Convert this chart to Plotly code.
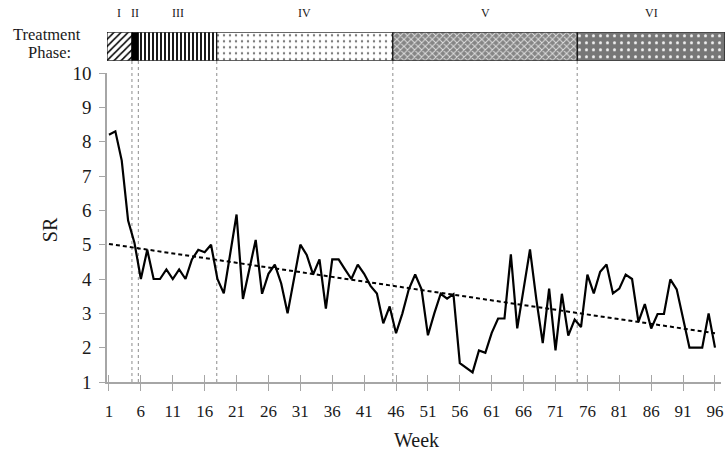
import plotly.graph_objects as go

# ---------------- data ----------------
weeks = list(range(1, 97))
sr = [8.2, 8.3, 7.45, 5.7, 5.05, 4.0, 4.85, 4.0, 4.0, 4.28,
      4.0, 4.28, 4.0, 4.57, 4.85, 4.78, 5.0, 4.0, 3.58, 4.7,
      5.88, 3.42, 4.3, 5.14, 3.57, 4.15, 4.42, 3.87, 3.0, 3.97,
      5.0, 4.7, 4.13, 4.57, 3.14, 4.57, 4.57, 4.28, 4.0, 4.42,
      4.15, 3.8, 3.58, 2.71, 3.2, 2.42, 3.0, 3.7, 4.13, 3.7,
      2.36, 3.0, 3.57, 3.43, 3.56, 1.55, 1.42, 1.28, 1.92, 1.85,
      2.43, 2.85, 2.85, 4.72, 2.56, 3.7, 4.86, 3.4, 2.13, 3.72,
      1.92, 3.57, 2.35, 2.82, 2.6, 4.13, 3.58, 4.21, 4.42, 3.58,
      3.72, 4.13, 4.0, 2.75, 3.27, 2.56, 2.98, 2.98, 3.99, 3.7,
      2.85, 2.0, 2.0, 2.0, 3.0, 2.0]
trend_weeks = [1, 96]
trend_vals = [5.02, 2.42]
x_tick_vals = list(range(1, 97, 5))
x_tick_text = [str(v) for v in x_tick_vals]
y_tick_vals = list(range(1, 11))
phase_names = ["I", "II", "III", "IV", "V", "VI"]
phase_bounds = [0.69, 4.6, 5.6, 17.9, 45.5, 74.4, 97.56]  # week positions of phase edges

# ---------------- style ----------------
SERIF = "Liberation Serif, Times New Roman, serif"
AX = "#a6a6a6"
TXT = "#1a1a1a"
X_MAIN_RANGE = [0.69, 96.94]
X_BAR_RANGE = [0.69, 97.56]

phase_styles = [
    dict(shape="/", fg="black", bg="white", size=5, sol=0.3),
    dict(shape="", fg="black", bg="black", size=5, sol=0.3),
    dict(shape="|", fg="black", bg="white", size=4, sol=0.45),
    dict(shape=".", fg="#7a7a7a", bg="white", size=6, sol=0.12),
    dict(shape="x", fg="#dedede", bg="#858585", size=5, sol=0.35),
    dict(shape=".", fg="#f2f2f2", bg="#777777", size=7, sol=0.15),
]

fig = go.Figure()

for i, name in enumerate(phase_names):
    st = phase_styles[i]
    marker = dict(color=st["bg"], line=dict(color="black", width=1))
    if st["shape"]:
        marker["pattern"] = dict(shape=st["shape"], fgcolor=st["fg"], bgcolor=st["bg"],
                                 size=st["size"], solidity=st["sol"], fillmode="replace")
    fig.add_trace(go.Bar(
        orientation="h", y=[0.5], x=[phase_bounds[i + 1] - phase_bounds[i]],
        base=[phase_bounds[i]], width=1, name=name,
        xaxis="x2", yaxis="y2", showlegend=False, hoverinfo="skip", marker=marker))

fig.add_trace(go.Scatter(x=weeks, y=sr, mode="lines",
                         line=dict(color="black", width=2.2), showlegend=False,
                         hoverinfo="skip"))
fig.add_trace(go.Scatter(x=trend_weeks, y=trend_vals, mode="lines",
                         line=dict(color="black", width=2, dash="4px,3px"),
                         showlegend=False, hoverinfo="skip"))
# invisible trace to carry the inside-tick overlay axis
fig.add_trace(go.Scatter(x=[x_tick_vals[0]], y=[1], xaxis="x3", mode="markers",
                         marker=dict(opacity=0), showlegend=False, hoverinfo="skip"))

shapes = []
for b in phase_bounds[1:-1]:
    shapes.append(dict(type="line", xref="x", yref="paper", x0=b, x1=b,
                       y0=0, y1=0.9128, line=dict(color="#8c8c8c", width=1, dash="dot"),
                       layer="below"))

annotations = []
for i, name in enumerate(phase_names):
    c = (phase_bounds[i] + phase_bounds[i + 1]) / 2
    annotations.append(dict(x=c, y=(382 - 13) / 352, xref="x2", yref="paper", text=name,
                            xanchor="center", yanchor="middle",
                            showarrow=False, font=dict(family=SERIF, size=12, color=TXT)))
annotations += [
    dict(x=(47 - 107) / 620, y=(382 - 35) / 352, xref="paper", yref="paper", text="Treatment",
         xanchor="center", yanchor="middle",
         showarrow=False, font=dict(family=SERIF, size=16.5, color=TXT)),
    dict(x=(49 - 107) / 620, y=(382 - 52.5) / 352, xref="paper", yref="paper", text="Phase:",
         xanchor="center", yanchor="middle",
         showarrow=False, font=dict(family=SERIF, size=16.5, color=TXT)),
    dict(x=(418 - 107) / 620, y=(382 - 440) / 352, xref="paper", yref="paper", text="Week",
         xanchor="center", yanchor="middle",
         showarrow=False, font=dict(family=SERIF, size=20, color=TXT)),
    dict(x=(50 - 107) / 620, y=(382 - 230) / 352, xref="paper", yref="paper", text="SR",
         xanchor="center", yanchor="middle",
         textangle=-90, showarrow=False, font=dict(family=SERIF, size=20, color=TXT)),
]

fig.update_layout(
    width=727, height=454,
    margin=dict(l=107, r=0, t=30, b=72),
    paper_bgcolor="white", plot_bgcolor="white",
    barmode="overlay",
    xaxis=dict(domain=[0, 0.9935], range=X_MAIN_RANGE, anchor="y",
               tickvals=x_tick_vals, ticktext=x_tick_text,
               ticks="outside", ticklen=7, tickwidth=1.2, tickcolor=AX,
               showline=True, linecolor=AX, linewidth=1.5,
               showgrid=False, zeroline=False, ticklabelstandoff=6,
               tickfont=dict(family=SERIF, size=17, color=TXT)),
    xaxis3=dict(overlaying="x", range=X_MAIN_RANGE, anchor="y",
                tickvals=x_tick_vals, ticks="inside", ticklen=7, tickwidth=1.2,
                tickcolor=AX, showticklabels=False, showline=False,
                showgrid=False, zeroline=False),
    yaxis=dict(domain=[0, 0.8778], range=[1, 10], anchor="x",
               tickvals=y_tick_vals, ticks="outside", ticklen=6, tickwidth=1.2,
               tickcolor=AX, showline=True, linecolor=AX, linewidth=1.5,
               showgrid=False, zeroline=False, ticklabelstandoff=4,
               tickfont=dict(family=SERIF, size=19, color=TXT)),
    xaxis2=dict(domain=[0, 1], range=X_BAR_RANGE, anchor="y2", visible=False),
    yaxis2=dict(domain=[0.9128, 0.9935], range=[0, 1], anchor="x2", visible=False),
    shapes=shapes,
    annotations=annotations,
)

fig.write_html("out.html", config={"displayModeBar": False},
               post_script="document.body.style.margin='0';")
